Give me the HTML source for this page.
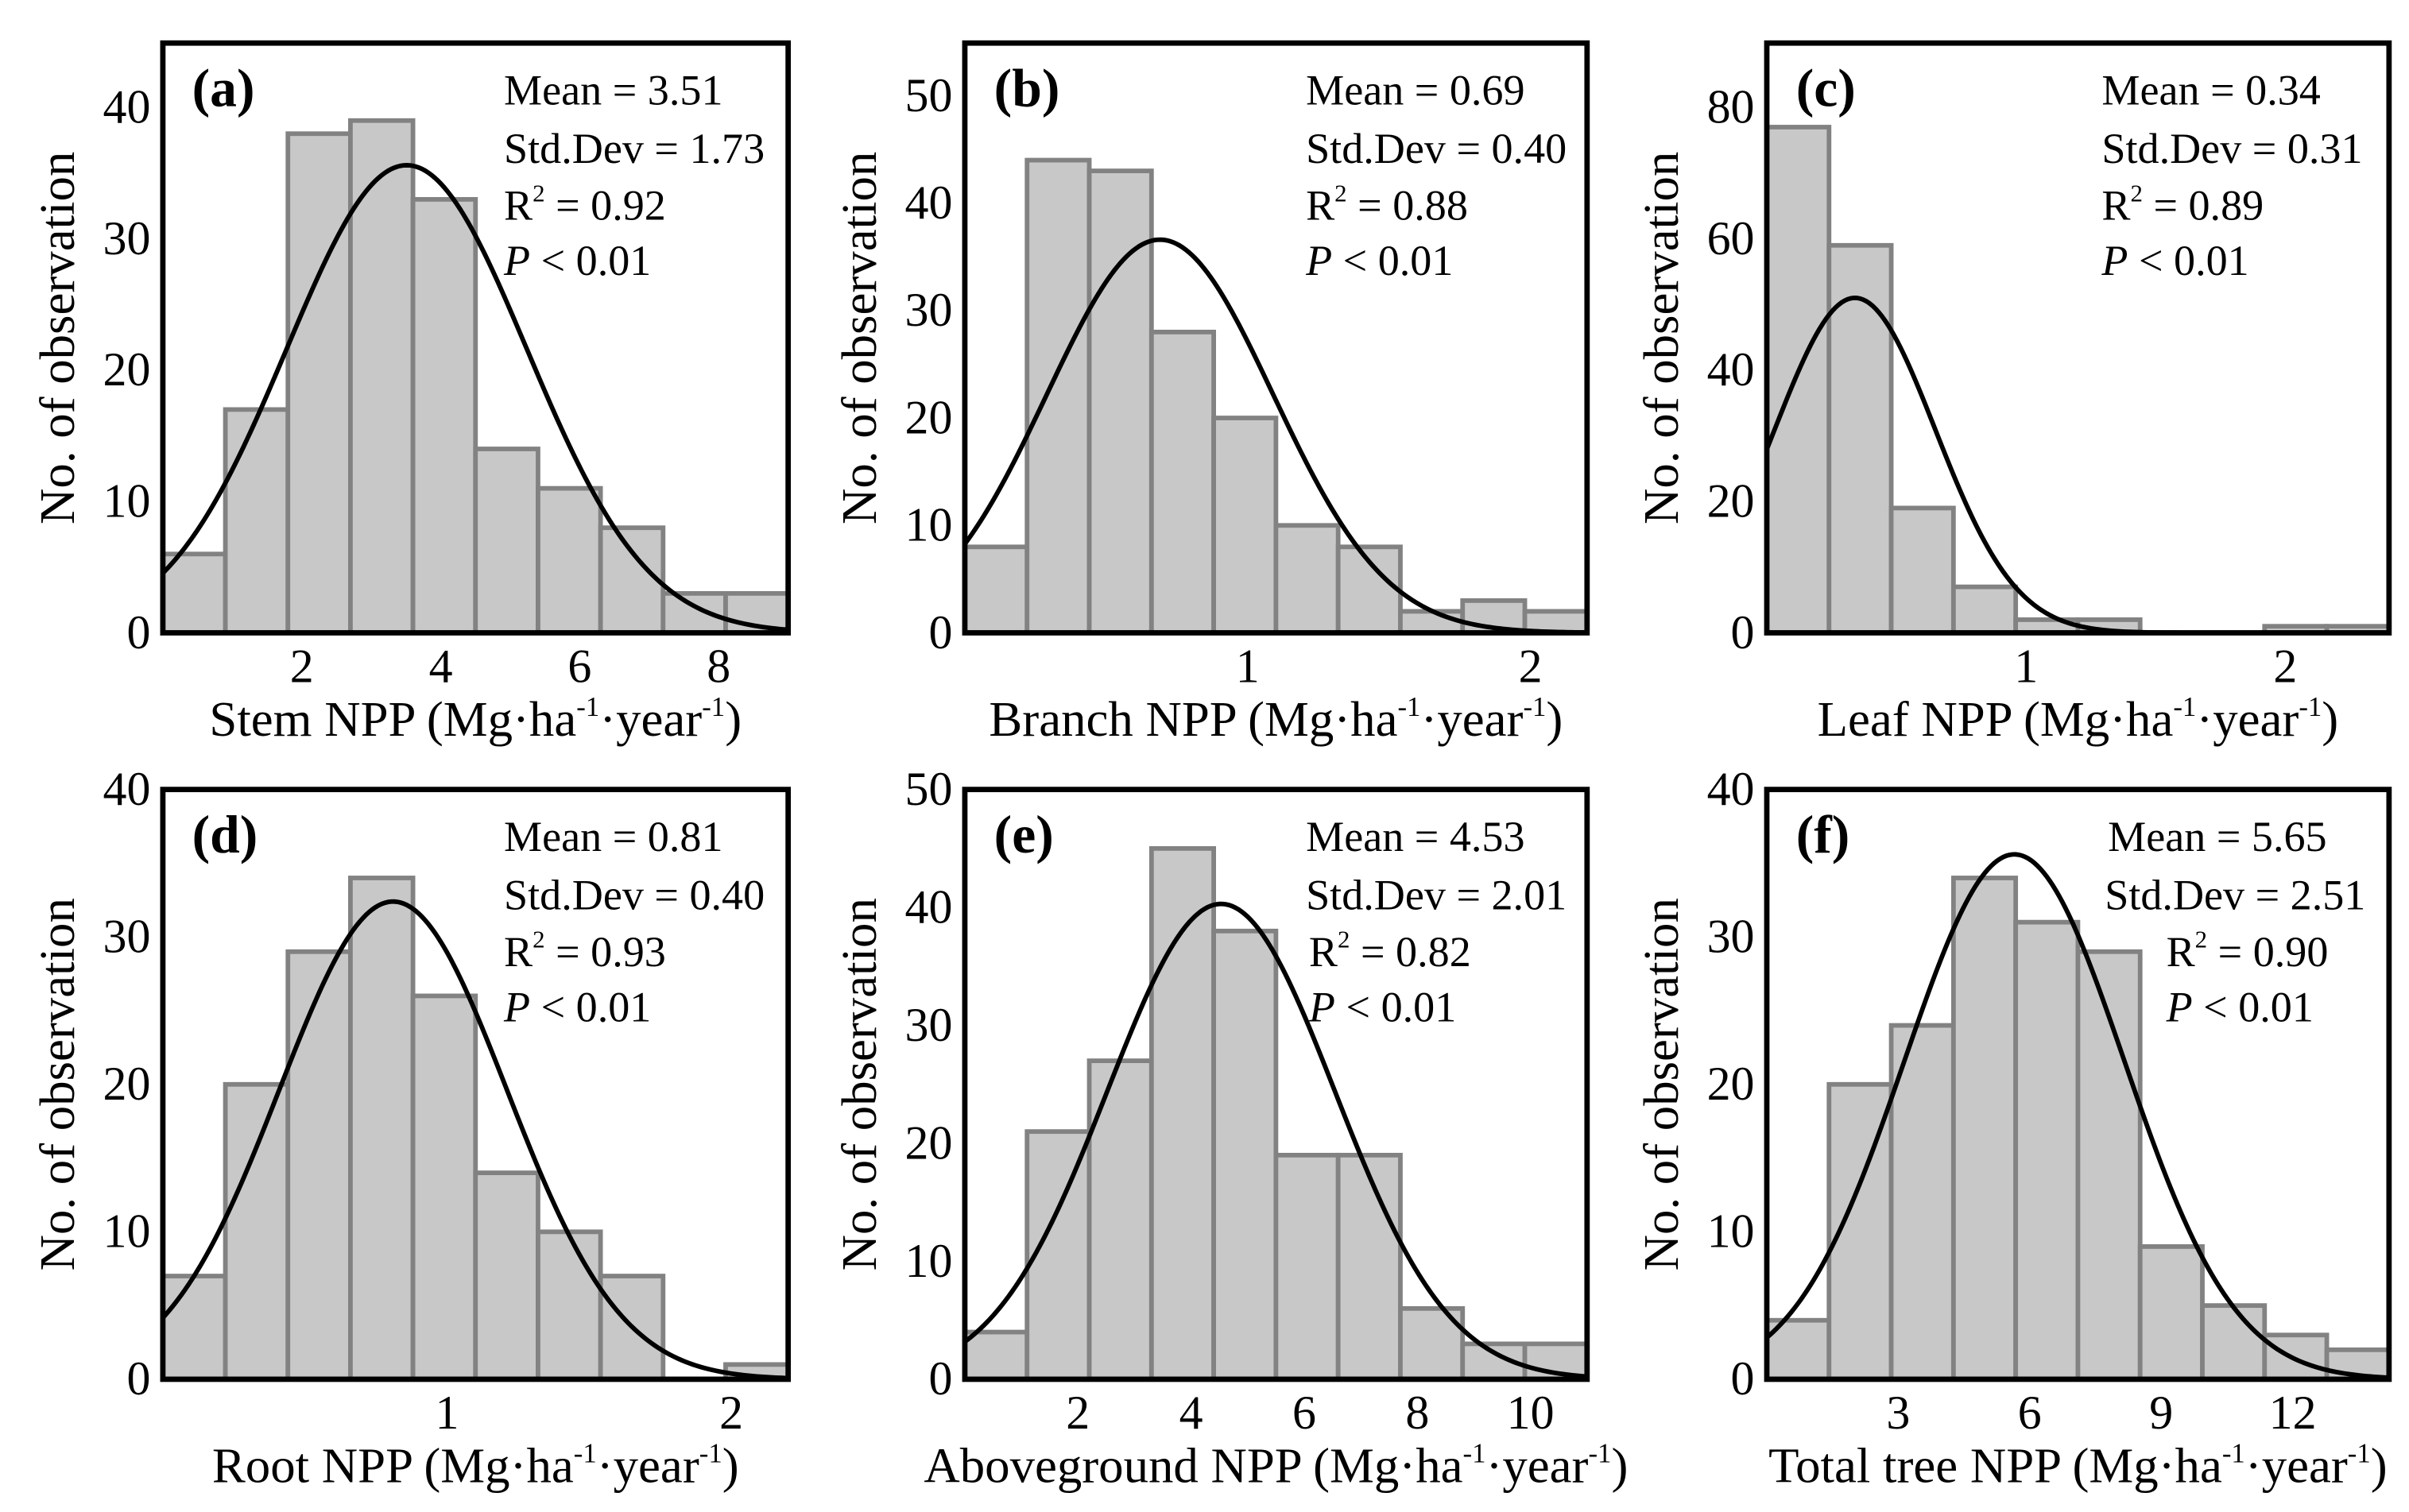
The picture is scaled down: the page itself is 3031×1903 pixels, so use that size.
<!DOCTYPE html>
<html><head><meta charset="utf-8">
<style>
html,body{margin:0;padding:0;background:#fff;}
svg{display:block;font-family:"Liberation Serif",serif;}
</style></head>
<body>
<svg id="fig" width="3031" height="1903" viewBox="0 0 1568 984.4" xmlns="http://www.w3.org/2000/svg"></svg>
<script>
// ---- data ----
const panelLabels = ["(a)","(b)","(c)","(d)","(e)","(f)"];
const axisNames = ["Stem","Branch","Leaf","Root","Aboveground","Total tree"];
const countsA = [6,17,38,39,33,14,11,8,3,3];
const countsB = [8,44,43,28,20,10,8,2,3,2];
const countsC = [77,59,19,7,2,2,0,0,1,1];
const countsD = [7,20,29,34,26,14,10,7,0,1];
const countsE = [4,21,27,45,38,19,19,6,3,3];
const countsF = [4,20,24,34,31,29,9,5,3,2];
const means = [3.51,0.69,0.34,0.81,4.53,5.65];
const stdDevs = [1.73,0.40,0.31,0.40,2.01,2.51];
const r2Values = ["0.92","0.88","0.89","0.93","0.82","0.90"];
const curvePeaks = [35.6,36.6,51,32.4,40.3,35.6];
const xMaxes = [9.0,2.2,2.4,2.2,11.0,14.2];
const yMaxes = [44.9,54.9,89.8,40,50,40];
const xTicksA = [2,4,6,8], xTicksB=[1,2], xTicksC=[1,2], xTicksD=[1,2], xTicksE=[2,4,6,8,10], xTicksF=[3,6,9,12];
const yTicksA = [0,10,20,30,40], yTicksB=[0,10,20,30,40,50], yTicksC=[0,20,40,60,80], yTicksD=[0,10,20,30,40], yTicksE=[0,10,20,30,40,50], yTicksF=[0,10,20,30,40];

const countsAll=[countsA,countsB,countsC,countsD,countsE,countsF];
const xTicksAll=[xTicksA,xTicksB,xTicksC,xTicksD,xTicksE,xTicksF];
const yTicksAll=[yTicksA,yTicksB,yTicksC,yTicksD,yTicksE,yTicksF];
// layout
const frames=[[106,28,513,412],[628,28,1033,412],[1150,28,1555,412],[106,514,513,898],[628,514,1033,898],[1150,514,1555,898]];
const statsX=[[328,328,328,328],[850,850,850,850],[1368,1368,1368,1368],[328,328,328,328],[850,850,852,852],[1372,1370,1410,1410]];

const NS="http://www.w3.org/2000/svg";
const svg=document.getElementById('fig');
function mk(tag,attrs,parent){const e=document.createElementNS(NS,tag);for(const k in attrs)e.setAttribute(k,attrs[k]);(parent||svg).appendChild(e);return e;}

for(let p=0;p<6;p++){
  const [L,T,R,B]=frames[p];
  const g=mk('g',{});
  
  
  const xs=v=>L+(v/xMaxes[p])*(R-L);
  const ys=v=>B-(v/yMaxes[p])*(B-T);
  const counts=countsAll[p];
  const bw=xMaxes[p]/counts.length;
  counts.forEach((c,i)=>{
    const r=mk('rect',{x:xs(i*bw),y:ys(c),width:xs((i+1)*bw)-xs(i*bw),height:B-ys(c),fill:'#c8c8c8',stroke:'#828282','stroke-width':3},g);
    
    
  });
  let d='';
  for(let k=0;k<=200;k++){const x=xMaxes[p]*k/200;const z=(x-means[p])/stdDevs[p];const y=curvePeaks[p]*Math.exp(-0.5*z*z);d+=(k?'L':'M')+xs(x).toFixed(2)+','+ys(Math.min(y,yMaxes[p])).toFixed(2);}
  const cv=mk('path',{d:d,fill:'none',stroke:'#000','stroke-width':3},g);
  
  
  const fr=mk('rect',{x:L,y:T,width:R-L,height:B-T,fill:'none',stroke:'#000','stroke-width':3.5},g);
  
  
  xTicksAll[p].forEach(t=>{
    const e=mk('text',{x:xs(t),y:B+32,'font-size':31,'text-anchor':'middle'},g);e.textContent=t;
    
    
  });
  yTicksAll[p].forEach(t=>{
    const e=mk('text',{x:L-8,y:ys(t)+10,'font-size':31,'text-anchor':'end'},g);e.textContent=t;
    
    
  });
  const xt=mk('text',{x:(L+R)/2,y:B+67,'font-size':32.5,'text-anchor':'middle'},g);
  xt.innerHTML=axisNames[p]+' NPP (Mg·ha<tspan font-size="18" dy="-13">-1</tspan><tspan dy="13">·year</tspan><tspan font-size="18" dy="-13">-1</tspan><tspan dy="13">)</tspan>';
  
  
  const yt=mk('text',{x:0,y:0,'font-size':32.5,'text-anchor':'middle',transform:`translate(${L-58},${(T+B)/2}) rotate(-90)`},g);
  yt.textContent='No. of observation';
  
  
  const pl=mk('text',{x:L+19,y:T+41,'font-size':35,'font-weight':'bold'},g);pl.textContent=panelLabels[p];
  
  
  const sx=statsX[p];
  const s1=mk('text',{x:sx[0],y:T+40,'font-size':28},g);s1.textContent='Mean = '+means[p].toFixed(2);
  
  
  const s2=mk('text',{x:sx[1],y:T+78,'font-size':28},g);s2.textContent='Std.Dev = '+stdDevs[p].toFixed(2);
  
  
  const s3=mk('text',{x:sx[2],y:T+115,'font-size':28},g);
  s3.innerHTML='R<tspan font-size="16" dy="-12">2</tspan><tspan dy="12"> = '+r2Values[p]+'</tspan>';
  
  
  const s4=mk('text',{x:sx[3],y:T+151,'font-size':28},g);
  s4.innerHTML='<tspan font-style="italic">P</tspan> &lt; 0.01';
  
  
}
</script>
</body></html>
